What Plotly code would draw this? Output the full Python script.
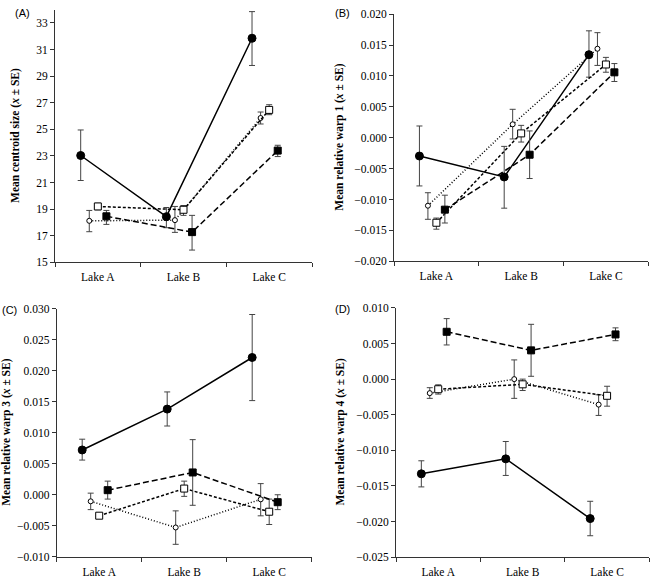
import plotly.graph_objects as go

lakes = ["Lake A", "Lake B", "Lake C"]
series_names = ["filled circle", "open circle", "open square", "filled square"]

# Panel A: mean centroid size
a_mean = [[23.03, 18.43, 31.85], [18.12, 18.17, 25.85], [19.2, 18.95, 26.46], [18.46, 17.27, 23.4]]
a_hi = [[24.95, 19.12, 33.85], [18.9, 19.2, 26.3], [19.44, 19.27, 26.85], [18.9, 18.53, 23.8]]
a_lo = [[21.15, 17.6, 29.8], [17.3, 17.25, 25.4], [18.95, 18.53, 26.1], [17.85, 15.92, 22.95]]

# Panel B: relative warp 1
b_mean = [[-0.00296, -0.00635, 0.01344], [-0.011, 0.00217, 0.0144], [-0.01376, 0.0007, 0.01185], [-0.01164, -0.00275, 0.01058]]
b_hi = [[0.0019, -0.0014, 0.0173], [-0.0089, 0.0046, 0.017], [-0.013, 0.002, 0.013], [-0.0093, 0.0011, 0.012]]
b_lo = [[-0.0078, -0.0114, 0.0098], [-0.0132, -0.0002, 0.0117], [-0.0148, -0.0007, 0.0106], [-0.0138, -0.0066, 0.0091]]

# Panel C: relative warp 3
c_mean = [[0.00723, 0.01383, 0.02216], [-0.00106, -0.00528, -0.00074], [-0.00338, 0.001, -0.00274], [0.00074, 0.0036, -0.0012]]
c_hi = [[0.00897, 0.0166, 0.0291], [0.00026, -0.0026, 0.0018], [-0.003, 0.0022, -0.0007], [0.0022, 0.0089, 0.0]]
c_lo = [[0.0056, 0.0111, 0.0152], [-0.0024, -0.008, -0.0034], [-0.0038, -0.00026, -0.0048], [-0.0007, -0.0017, -0.0024]]

# Panel D: relative warp 4
d_mean = [[-0.0133, -0.0112, -0.01959], [-0.00197, 0.0, -0.00358], [-0.00142, -0.00073, -0.00234], [0.00665, 0.00404, 0.00628]]
d_hi = [[-0.01147, -0.00876, -0.01716], [-0.0012, 0.0027, -0.0022], [-0.0008, 0.0, -0.001], [0.0085, 0.0077, 0.0072]]
d_lo = [[-0.01514, -0.01353, -0.022], [-0.0027, -0.0027, -0.0051], [-0.0021, -0.0016, -0.0038], [0.0048, 0.0004, 0.0054]]

offsets = [-0.2, -0.1, 0.0, 0.1]
marker_styles = [
    dict(symbol="circle", size=8, color="black", line=dict(color="black", width=1)),
    dict(symbol="circle", size=5, color="white", line=dict(color="black", width=1)),
    dict(symbol="square", size=7, color="white", line=dict(color="black", width=1)),
    dict(symbol="square", size=7, color="black", line=dict(color="black", width=1)),
]
line_styles = [
    dict(color="black", width=1.5, dash="solid"),
    dict(color="black", width=1.5, dash="1px,2px"),
    dict(color="black", width=1.5, dash="3px,2px"),
    dict(color="black", width=1.5, dash="6px,3px"),
]

panels = [
    ("A", a_mean, a_hi, a_lo, "Mean centroid size (<i>x</i> ± SE)", [15, 34], [15, 17, 19, 21, 23, 25, 27, 29, 31, 33], None),
    ("B", b_mean, b_hi, b_lo, "Mean relative warp 1 (<i>x</i> ± SE)", [-0.02, 0.02],
     [-0.02, -0.015, -0.01, -0.005, 0, 0.005, 0.01, 0.015, 0.02], "3f"),
    ("C", c_mean, c_hi, c_lo, "Mean relative warp 3 (<i>x</i> ± SE)", [-0.01, 0.03],
     [-0.01, -0.005, 0, 0.005, 0.01, 0.015, 0.02, 0.025, 0.03], "3f"),
    ("D", d_mean, d_hi, d_lo, "Mean relative warp 4 (<i>x</i> ± SE)", [-0.025, 0.01],
     [-0.025, -0.02, -0.015, -0.01, -0.005, 0, 0.005, 0.01], "3f"),
]

W, H = 651, 582
# plot-area pixel boxes: (left, right, top, bottom)
boxes = {
    "A": (55, 312, 3.7, 261.7),
    "B": (394, 648.3, 8.3, 260.7),
    "C": (56.7, 311.7, 309.3, 562.3),
    "D": (396, 649.3, 308.3, 562.7),
}
title_x = {"A": 16, "B": 340, "C": 7, "D": 341}
label_pos = {"A": (13, 7), "B": (333, 7), "C": (0, 310), "D": (333, 309)}

fig = go.Figure()
layout = dict(
    width=W, height=H, margin=dict(l=0, r=0, t=0, b=0),
    paper_bgcolor="white", plot_bgcolor="white", showlegend=False,
    font=dict(family="Liberation Serif", size=11, color="black"),
)
annotations = []
xs = [0, 1, 2]
for i, (key, mean, hi, lo, ytitle, yrange, yticks, fmt) in enumerate(panels):
    sfx = "" if i == 0 else str(i + 1)
    for s in range(4):
        fig.add_trace(go.Scatter(
            x=[x + offsets[s] for x in xs], y=mean[s],
            mode="lines+markers", name=series_names[s],
            line=line_styles[s], marker=marker_styles[s],
            error_y=dict(type="data", symmetric=False,
                         array=[h - m for h, m in zip(hi[s], mean[s])],
                         arrayminus=[m - l for m, l in zip(mean[s], lo[s])],
                         color="#444444", thickness=1, width=3),
            xaxis="x" + sfx, yaxis="y" + sfx, cliponaxis=False,
        ))
    l, r, t, b = boxes[key]
    ytext = [f"{v:.3f}".replace("-", "\u2212") if fmt else str(v) for v in yticks]
    if fmt:
        ytext = ["0.000" if abs(v) < 1e-12 else t_ for v, t_ in zip(yticks, ytext)]
    layout["xaxis" + sfx] = dict(
        domain=[l / W, r / W], range=[-0.5, 2.5], anchor="y" + sfx,
        tickmode="array", tickvals=xs, ticktext=lakes, ticks="", showgrid=False,
        zeroline=False, showline=True, linecolor="#333333", linewidth=1,
        minor=dict(tickvals=[-0.5, 0.5, 1.5, 2.5], ticks="outside", ticklen=4,
                   tickcolor="#333333", showgrid=False),
        tickfont=dict(size=11.5), ticklabelstandoff=4, fixedrange=True,
    )
    layout["yaxis" + sfx] = dict(
        domain=[(H - b) / H, (H - t) / H], range=yrange, anchor="x" + sfx,
        tickmode="array", tickvals=yticks, ticktext=ytext, ticks="outside",
        ticklen=4, tickcolor="#333333", showgrid=False, zeroline=False,
        showline=True, linecolor="#333333", linewidth=1,
        tickfont=dict(size=11.5), fixedrange=True,
    )
    annotations.append(dict(
        text=f"<b>{ytitle}</b>", textangle=-90, xref="paper", yref="paper",
        x=title_x[key] / W, y=(H - (t + b) / 2) / H, xanchor="center", yanchor="middle",
        showarrow=False, font=dict(family="Liberation Serif", size=11.5, color="black"),
    ))
    lx, ly = label_pos[key]
    annotations.append(dict(
        text=f"({key})", xref="paper", yref="paper", x=lx / W, y=(H - ly) / H,
        xanchor="left", yanchor="middle", showarrow=False,
        font=dict(family="Liberation Sans", size=11, color="black"),
    ))

layout["annotations"] = annotations
fig.update_layout(**layout)
fig.write_html("out.html", config={"displayModeBar": False},
               post_script="document.body.style.margin='0';document.body.style.padding='0';")
